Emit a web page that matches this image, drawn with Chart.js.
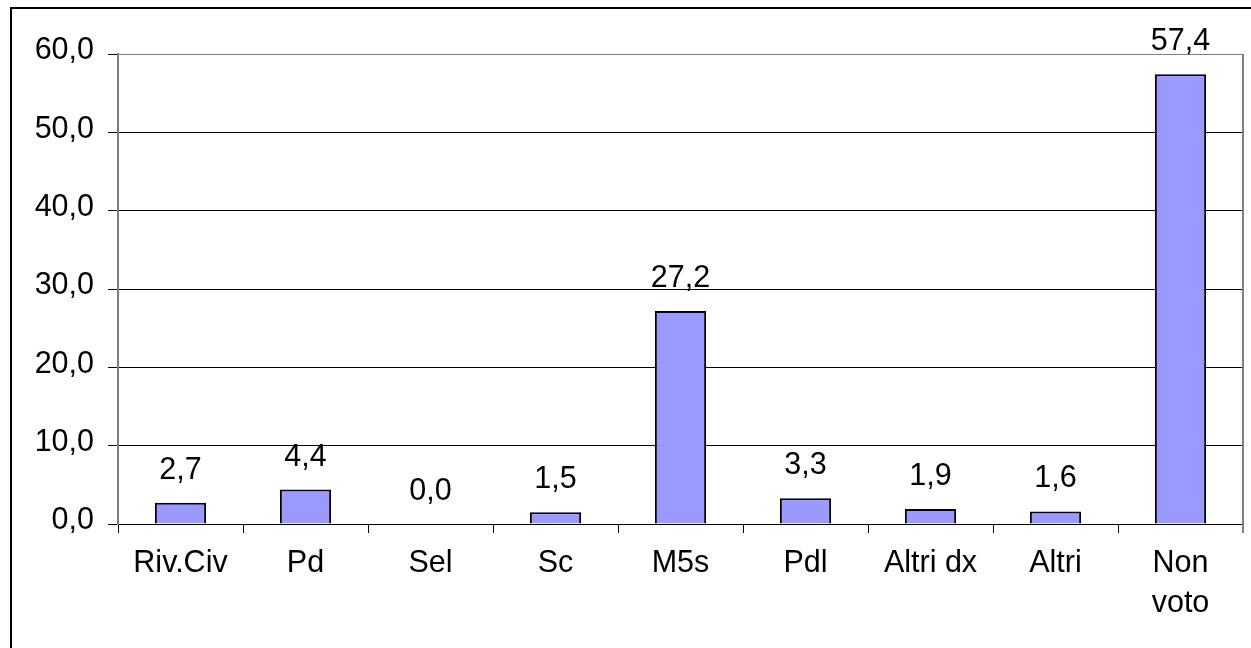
<!DOCTYPE html>
<html>
<head>
<meta charset="utf-8">
<script src="https://cdn.jsdelivr.net/npm/chart.js@4/dist/chart.umd.min.js"></script>
<style>
  body { margin: 0; background: #fff; }
  canvas { display: block; }
</style>
</head>
<body>
<canvas id="voteChart" width="1251" height="648"></canvas>
<script>
const categories = ['Riv.Civ', 'Pd', 'Sel', 'Sc', 'M5s', 'Pdl', 'Altri dx', 'Altri', ['Non', 'voto']];
const values = [2.7, 4.4, 0.0, 1.5, 27.2, 3.3, 1.9, 1.6, 57.4];
const yTicks = [0, 10, 20, 30, 40, 50, 60];

const FONT = { family: '"Liberation Sans", Arial, sans-serif', size: 30.5 };

// comma as decimal separator, like the original
function fmt(v) {
    return v.toFixed(1).replace('.', ',');
}

// outer frame + right border of the plot area
const framePlugin = {
    id: 'frame',
    beforeDraw(chart) {
        const c = chart.ctx;
        c.save();
        c.fillStyle = '#fff';
        c.fillRect(0, 0, chart.width, chart.height);
        c.strokeStyle = '#000';
        c.lineWidth = 2;
        c.strokeRect(11, 8, 1400, 800);
        c.restore();
    },
    afterDraw(chart) {
        const a = chart.chartArea;
        const c = chart.ctx;
        c.save();
        c.strokeStyle = '#808080';
        c.lineWidth = 2;
        c.beginPath();
        c.moveTo(a.right, a.top);
        c.lineTo(a.right, a.bottom + 9);
        c.stroke();
        c.restore();
    }
};

// value labels above each bar
const labelPlugin = {
    id: 'barLabels',
    afterDatasetsDraw(chart) {
        const c = chart.ctx;
        const meta = chart.getDatasetMeta(0);
        c.save();
        c.font = FONT.size + 'px ' + FONT.family;
        c.fillStyle = '#000';
        c.textAlign = 'center';
        c.textBaseline = 'alphabetic';
        meta.data.forEach((bar, i) => {
            c.fillText(fmt(values[i]), bar.x, bar.y - 24);
        });
        c.restore();
    }
};

new Chart(document.getElementById('voteChart'), {
    type: 'bar',
    data: {
        labels: categories,
        datasets: [{
            data: values,
            backgroundColor: '#9999FF',
            borderColor: '#000',
            borderWidth: 2,
            categoryPercentage: 1,
            barPercentage: 0.41
        }]
    },
    options: {
        responsive: false,
        animation: false,
        devicePixelRatio: 1,
        layout: { padding: { top: 54, right: 8, bottom: 0, left: 0 } },
        plugins: {
            legend: { display: false },
            tooltip: { enabled: false }
        },
        scales: {
            x: {
                afterFit(scale) { scale.height = 124; },
                grid: {
                    offset: true,
                    drawOnChartArea: false,
                    tickLength: 9,
                    color: '#000',
                    lineWidth: 1
                },
                border: { color: '#000', width: 1 },
                ticks: {
                    color: '#000',
                    font: { ...FONT, lineHeight: 1.3 },
                    padding: 11,
                    maxRotation: 0,
                    autoSkip: false
                }
            },
            y: {
                min: 0,
                max: 60,
                afterFit(scale) { scale.width = 118; },
                afterBuildTicks(scale) {
                    scale.ticks = yTicks.map(v => ({ value: v }));
                },
                grid: {
                    color: ctx => (ctx.tick && ctx.tick.value === 60) ? '#808080' : '#000',
                    tickColor: '#000',
                    tickLength: 10,
                    lineWidth: 1
                },
                border: { color: '#808080', width: 2 },
                ticks: {
                    color: '#000',
                    font: FONT,
                    padding: 14,
                    labelOffset: -3,
                    callback: v => fmt(v)
                }
            }
        }
    },
    plugins: [framePlugin, labelPlugin]
});
</script>
</body>
</html>
